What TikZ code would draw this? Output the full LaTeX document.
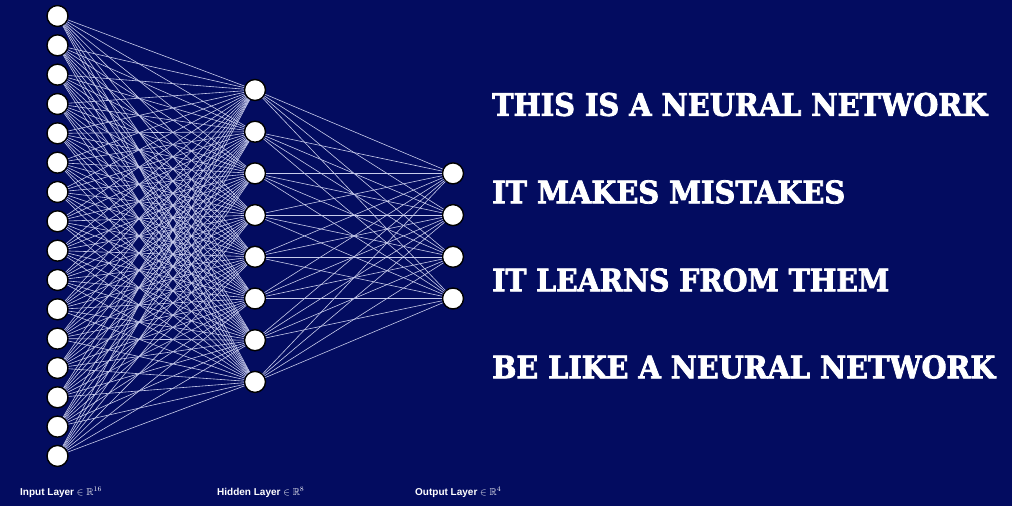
\documentclass[tikz,border=0pt]{standalone}
\usepackage{fontspec}
\usepackage{amssymb}
\usepackage{graphicx}
\newfontfamily\stencilfont[BoldFeatures={FakeBold=2.5}]{DejaVu Serif Condensed}
\newfontfamily\layerfont{Liberation Sans}
\definecolor{navy}{RGB}{3,12,96}
\definecolor{synapse}{RGB}{200,204,236}
\begin{document}
\begin{tikzpicture}[x=1pt, y=-1pt,
    neuron/.style={circle, draw=black, fill=white, line width=1.4pt, minimum size=21pt, inner sep=0pt},
    synapse/.style={draw=synapse, line width=0.6pt},
    slogan/.style={anchor=west, inner sep=0pt, text=white, font=\stencilfont\bfseries},
    layername/.style={anchor=west, inner sep=0pt, text=white, font=\layerfont\bfseries\fontsize{10}{12}\selectfont}]
    \fill[navy] (0,0) rectangle (1012,506);
    \useasboundingbox (0,0) rectangle (1012,506);
    % layers
    \foreach \i in {1,...,16}
        \node[neuron] (i\i) at (57.5, {16+29.33*(\i-1)}) {};
    \foreach \j in {1,...,8}
        \node[neuron] (h\j) at (255, {90+41.7*(\j-1)}) {};
    \foreach \k in {1,...,4}
        \node[neuron] (o\k) at (453, {173.4+41.7*(\k-1)}) {};
    % connections
    \foreach \i in {1,...,16}
        \foreach \j in {1,...,8}
            \draw[synapse] (i\i) -- (h\j);
    \foreach \j in {1,...,8}
        \foreach \k in {1,...,4}
            \draw[synapse] (h\j) -- (o\k);
    % text
    \node[slogan] (s1) at (492,104.5) {\resizebox{495pt}{23pt}{THIS IS A NEURAL NETWORK}};
    \node[slogan] (s2) at (492,192) {\resizebox{353pt}{23pt}{IT MAKES MISTAKES}};
    \node[slogan] (s3) at (492,280) {\resizebox{397pt}{23pt}{IT LEARNS FROM THEM}};
    \node[slogan] (s4) at (492,367) {\resizebox{503pt}{23pt}{BE LIKE A NEURAL NETWORK}};
    \node[layername] (l1) at (20,492.5) {Input Layer $\in \mathbb{R}^{16}$};
    \node[layername] (l2) at (217,492.5) {Hidden Layer $\in \mathbb{R}^{8}$};
    \node[layername] (l3) at (415,492.5) {Output Layer $\in \mathbb{R}^{4}$};
\end{tikzpicture}
\end{document}
